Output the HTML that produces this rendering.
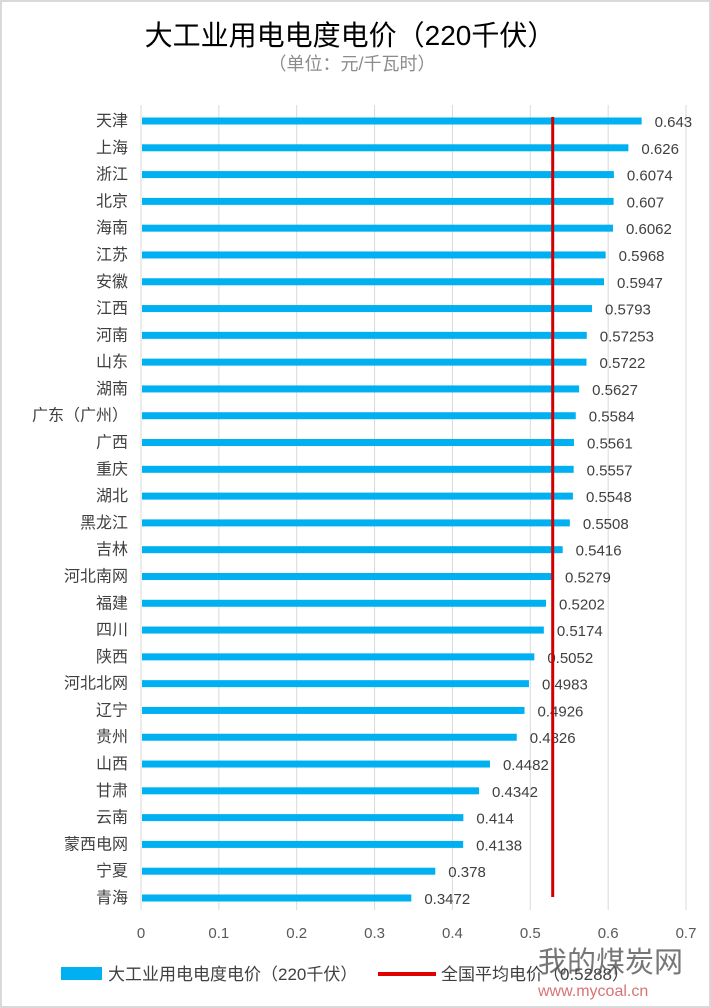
<!DOCTYPE html>
<html><head><meta charset="utf-8"><style>
html,body{margin:0;padding:0;background:#fff;}
svg{display:block;font-family:"Liberation Sans","Noto Sans CJK SC",sans-serif;}
</style></head><body>
<svg id="chart" width="711" height="1008" viewBox="0 0 711 1008" xmlns="http://www.w3.org/2000/svg">
<rect x="1" y="1" width="709" height="1006" fill="#fff" stroke="#d9d9d9" stroke-width="2"/>
<text x="350" y="45" text-anchor="middle" font-size="28" fill="#000">大工业用电电度电价（220千伏）</text>
<text x="352" y="70" text-anchor="middle" font-size="18" fill="#8c8c8c">（单位：元/千瓦时）</text>
<g id="grid"></g><g id="bars"></g><g id="labels"></g><g id="ticks"></g><g id="avg"></g>
<g>
<rect x="61" y="967" width="41" height="13" fill="#00b0f0"/>
<text x="108" y="980" font-size="17" fill="#404040">大工业用电电度电价（220千伏）</text>
<line x1="378" y1="974" x2="436" y2="974" stroke="#e00000" stroke-width="4"/>
<text x="441" y="980" font-size="17" fill="#404040">全国平均电价（0.5288）</text>
</g>
<g opacity="0.8">
<text x="538" y="972" font-size="29" fill="#555">我的煤炭网</text>
<text x="538" y="996" font-size="16" fill="#d05050">www.mycoal.cn</text>
</g>
</svg>
<script>
const categories=["天津","上海","浙江","北京","海南","江苏","安徽","江西","河南","山东","湖南","广东（广州）","广西","重庆","湖北","黑龙江","吉林","河北南网","福建","四川","陕西","河北北网","辽宁","贵州","山西","甘肃","云南","蒙西电网","宁夏","青海"];
const values=[0.643,0.626,0.6074,0.607,0.6062,0.5968,0.5947,0.5793,0.57253,0.5722,0.5627,0.5584,0.5561,0.5557,0.5548,0.5508,0.5416,0.5279,0.5202,0.5174,0.5052,0.4983,0.4926,0.4826,0.4482,0.4342,0.414,0.4138,0.378,0.3472];
const valueLabels=["0.643","0.626","0.6074","0.607","0.6062","0.5968","0.5947","0.5793","0.57253","0.5722","0.5627","0.5584","0.5561","0.5557","0.5548","0.5508","0.5416","0.5279","0.5202","0.5174","0.5052","0.4983","0.4926","0.4826","0.4482","0.4342","0.414","0.4138","0.378","0.3472"];
const xTicks=[0,0.1,0.2,0.3,0.4,0.5,0.6,0.7];
const xTickLabels=["0","0.1","0.2","0.3","0.4","0.5","0.6","0.7"];
const average=[0.5288];
const NS="http://www.w3.org/2000/svg";
const x=v=>141+v*(686-141)/0.7;
const y=i=>121+i*(898-121)/29;
function mk(tag,attrs,parent){const e=document.createElementNS(NS,tag);for(const k in attrs)e.setAttribute(k,attrs[k]);document.getElementById(parent).appendChild(e);return e;}
xTicks.forEach((t,i)=>{
  const g=mk("line",{x1:x(t),x2:x(t),y1:105,y2:910,stroke:"#d9d9d9","stroke-width":1},"grid");
  
  
  const tl=mk("text",{x:x(t),y:938,"text-anchor":"middle","font-size":15,fill:"#595959"},"ticks");
  tl.textContent=xTickLabels[i];
  
  
});
values.forEach((v,i)=>{
  const b=mk("rect",{x:x(0)+1,y:y(i)-3.5,width:x(v)-x(0)-1,height:7,fill:"#00b0f0"},"bars");
  
  
  const c=mk("text",{x:128,y:y(i)+5,"text-anchor":"end","font-size":16,fill:"#404040"},"labels");
  c.textContent=categories[i];
  
  
  const l=mk("text",{x:x(v)+13,y:y(i)+6,"font-size":15,fill:"#404040"},"labels");
  l.textContent=valueLabels[i];
  
  
});
const a=mk("line",{x1:x(average[0]),x2:x(average[0]),y1:117,y2:897,stroke:"#d00000","stroke-width":3},"avg");


</script>
</body></html>
